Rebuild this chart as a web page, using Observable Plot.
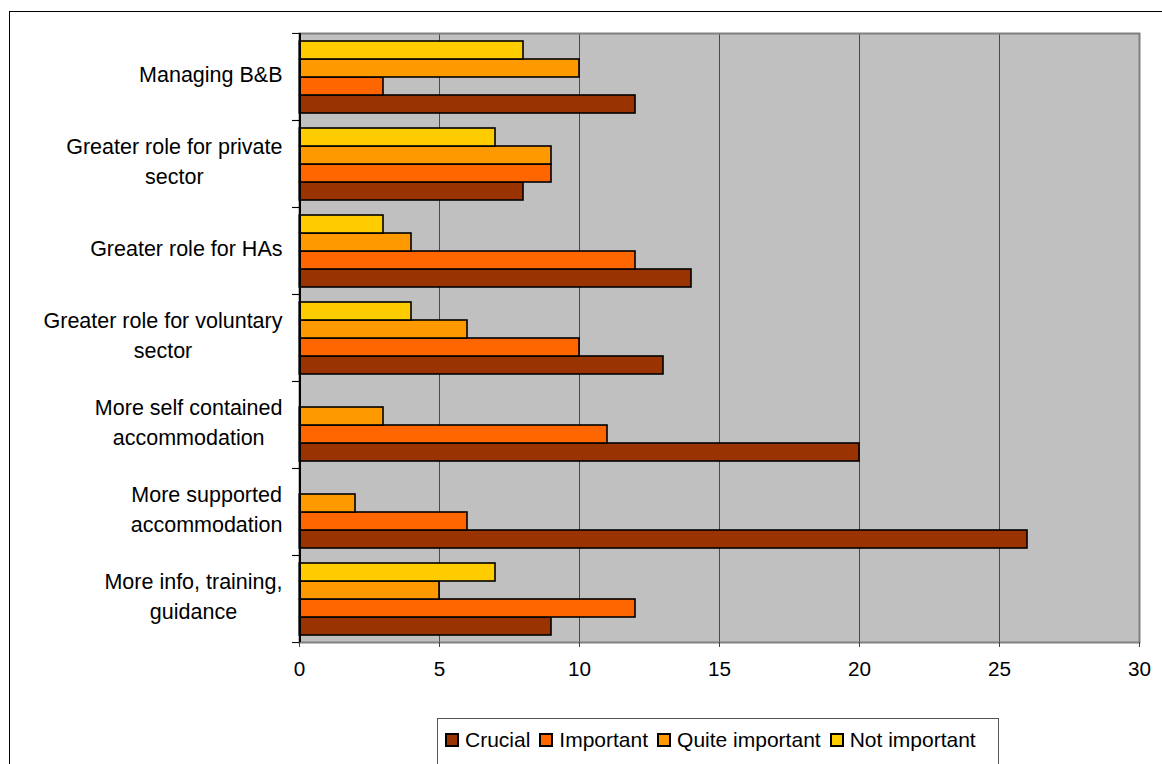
<!DOCTYPE html>
<html><head><meta charset="utf-8">
<script src="https://cdn.jsdelivr.net/npm/d3@7"></script>
<script src="https://cdn.jsdelivr.net/npm/@observablehq/plot@0.6"></script>
<style>
html,body{margin:0;padding:0;background:#fff;overflow:hidden;}
#wrap{position:relative;width:1162px;height:764px;overflow:hidden;font-family:"Liberation Sans",Arial,sans-serif;}
#border{position:absolute;left:9px;top:11px;width:1300px;height:900px;border:1.5px solid #000;box-sizing:border-box;}
#chart{position:absolute;left:0;top:0;}
#legend{position:absolute;left:437px;top:718px;width:562px;height:48px;border:1.5px solid #555;box-sizing:border-box;display:flex;align-items:center;padding:0 0 5px 7px;font-size:21px;color:#000;background:#fff;}
.item{display:flex;align-items:center;margin-right:9px;white-space:nowrap;}
.sw{width:10px;height:10px;border:2px solid #000;margin-right:6px;}
</style></head>
<body><div id="wrap"><div id="border"></div><div id="chart"></div><div id="legend"></div></div>
<script>
// ---- data ----
const categories = [
  "Managing B&B",
  "Greater role for private sector",
  "Greater role for HAs",
  "Greater role for voluntary sector",
  "More self contained accommodation",
  "More supported accommodation",
  "More info, training, guidance"
];
const categoryLabels = [
  "Managing B&B",
  "Greater role for private\nsector",
  "Greater role for HAs",
  "Greater role for voluntary\nsector",
  "More self contained\naccommodation",
  "More supported\naccommodation",
  "More info, training,\nguidance"
];
const seriesNames = ["Crucial", "Important", "Quite important", "Not important"];
const seriesColors = ["#993300", "#FF6600", "#FF9900", "#FFCC00"];
const crucial        = [12, 8, 14, 13, 20, 26, 9];
const important      = [3, 9, 12, 10, 11, 6, 12];
const quiteImportant = [10, 9, 4, 6, 3, 2, 5];
const notImportant   = [8, 7, 3, 4, 0, 0, 7];
const xTicks = [0, 5, 10, 15, 20, 25, 30];
const gridTicks = [5, 10, 15, 20, 25];

// ---- table ----
const seriesValues = [crucial, important, quiteImportant, notImportant];
const rows = [];
categories.forEach((c, i) => seriesNames.forEach((s, j) =>
  rows.push({category: c, series: s, value: seriesValues[j][i]})));
const bars = rows.filter(d => d.value > 0);
const labelOf = new Map(categories.map((c, i) => [c, categoryLabels[i]]));

const W = 1162, H = 700, mT = 32, mB = 58, mL = 299, mR = 23;
const facetStep = (H - mT - mB) / categories.length;

const plot = Plot.plot({
  width: W, height: H,
  marginTop: mT, marginBottom: mB, marginLeft: mL, marginRight: mR,
  style: {fontFamily: "'Liberation Sans', Arial, sans-serif", fontSize: "20.7px", color: "#000", background: "transparent"},
  x: {domain: [0, 30], label: null},
  y: {domain: [...seriesNames].reverse(), paddingInner: 0, paddingOuter: 0.29, axis: null},
  fy: {domain: categories, padding: 0, label: null},
  color: {domain: seriesNames, range: seriesColors},
  marks: [
    Plot.frame({facet: "super", fill: "#C0C0C0", stroke: "none"}),
    Plot.gridX(gridTicks, {stroke: "#4a4a4a", strokeOpacity: 1, strokeWidth: 1, shapeRendering: "crispEdges"}),
    Plot.barX(bars, {x: "value", y: "series", fy: "category", fill: "series", stroke: "#000", strokeWidth: 1.6}),
    Plot.frame({facet: "super", stroke: "#808080", strokeWidth: 2}),
    Plot.ruleX([0], {stroke: "#000", strokeWidth: 2, shapeRendering: "crispEdges"}),
    Plot.axisX(xTicks, {tickSize: 5, tickPadding: 14, fontSize: 20.7, stroke: "#404040", label: null}),
    Plot.axisFy({anchor: "left", tickSize: 0, tickPadding: 17, dy: -5, fontSize: 21.5, lineHeight: 1.4, tickFormat: c => labelOf.get(c), label: null}),
    Plot.axisFy({anchor: "left", tickSize: 7, tickFormat: () => "", dy: -facetStep / 2, stroke: "#000", label: null}),
    Plot.axisFy([categories[categories.length - 1]], {anchor: "left", tickSize: 7, tickFormat: () => "", dy: facetStep / 2, stroke: "#000", label: null})
  ]
});
document.getElementById("chart").append(plot);

// center multi-line category labels as a block (Excel style)
plot.querySelectorAll("text").forEach(t => {
  const ts = [...t.querySelectorAll("tspan")];
  if (ts.length < 2) return;
  const ws = ts.map(s => s.getComputedTextLength());
  const m = Math.max(...ws);
  ts.forEach((s, i) => s.setAttribute("x", -(m - ws[i]) / 2));
});

// legend
const leg = document.getElementById("legend");
seriesNames.forEach((s, i) => {
  const it = document.createElement("div"); it.className = "item";
  const sw = document.createElement("div"); sw.className = "sw"; sw.style.background = seriesColors[i];
  const tx = document.createElement("span"); tx.textContent = s;
  it.append(sw, tx); leg.append(it);
});
</script>
</body></html>
